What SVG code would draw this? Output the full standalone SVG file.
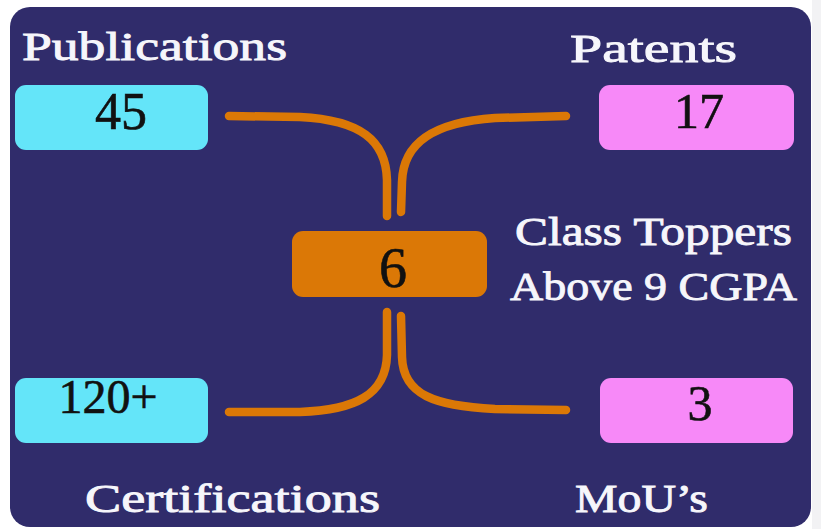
<svg xmlns="http://www.w3.org/2000/svg" width="821" height="529" viewBox="0 0 821 529">
<style>
.lbl{font-family:"Liberation Serif","DejaVu Serif",serif;fill:#f6f6fb;stroke:#f6f6fb;stroke-width:0.9;font-size:41px;}
.num{font-family:"Liberation Serif","DejaVu Serif",serif;fill:#111111;text-anchor:middle;stroke:#111111;stroke-width:0.6;}
.con{fill:none;stroke:#DB7806;stroke-width:8.5;stroke-linecap:round;}
.cyan{fill:#64E5F9;}
.pink{fill:#F789F8;}
</style>
<rect x="0" y="0" width="821" height="529" fill="#ffffff"/>
<rect x="812" y="0" width="9" height="529" fill="#f2f2f4"/>
<rect id="panel" x="10" y="7" width="801" height="520" rx="20" fill="#302C6B"/>
<g id="connectors">
<path class="con" d="M229,116 L300,117 C360,120 386,140 387,180 L387,216"/>
<path class="con" d="M566,116 L495,118 C435,122 403,142 402,182 L401,212"/>
<path class="con" d="M387,312 L387,355 C386,395 355,410 300,412 L229,412"/>
<path class="con" d="M401,316 L402,357 C403,395 435,406 495,409 L566,410"/>
</g>
<g id="publications">
<rect class="cyan" x="15" y="85" width="193" height="65" rx="11"/>
<text class="num" x="121" y="129" font-size="52">45</text>
<text class="lbl" x="22" y="60" textLength="265" lengthAdjust="spacingAndGlyphs">Publications</text>
</g>
<g id="patents">
<rect class="pink" x="599" y="85" width="195" height="65" rx="11"/>
<text class="num" x="699" y="128" font-size="50">17</text>
<text class="lbl" x="570" y="62" textLength="167" lengthAdjust="spacingAndGlyphs">Patents</text>
</g>
<g id="toppers">
<rect x="292" y="231" width="195" height="66" rx="11" fill="#DB7806"/>
<text class="num" x="393" y="287" font-size="56">6</text>
<text class="lbl" x="515" y="245" font-size="37" textLength="277" lengthAdjust="spacingAndGlyphs">Class Toppers</text>
<text class="lbl" x="510" y="300" font-size="37" textLength="287" lengthAdjust="spacingAndGlyphs">Above 9 CGPA</text>
</g>
<g id="certifications">
<rect class="cyan" x="15" y="378" width="193" height="65" rx="11"/>
<text class="num" x="108" y="413" font-size="48">120+</text>
<text class="lbl" x="85" y="512" textLength="295" lengthAdjust="spacingAndGlyphs">Certifications</text>
</g>
<g id="mous">
<rect class="pink" x="600" y="378" width="193" height="65" rx="11"/>
<text class="num" x="700" y="420" font-size="50">3</text>
<text class="lbl" x="575" y="512" textLength="133" lengthAdjust="spacingAndGlyphs">MoU’s</text>
</g>
</svg>
